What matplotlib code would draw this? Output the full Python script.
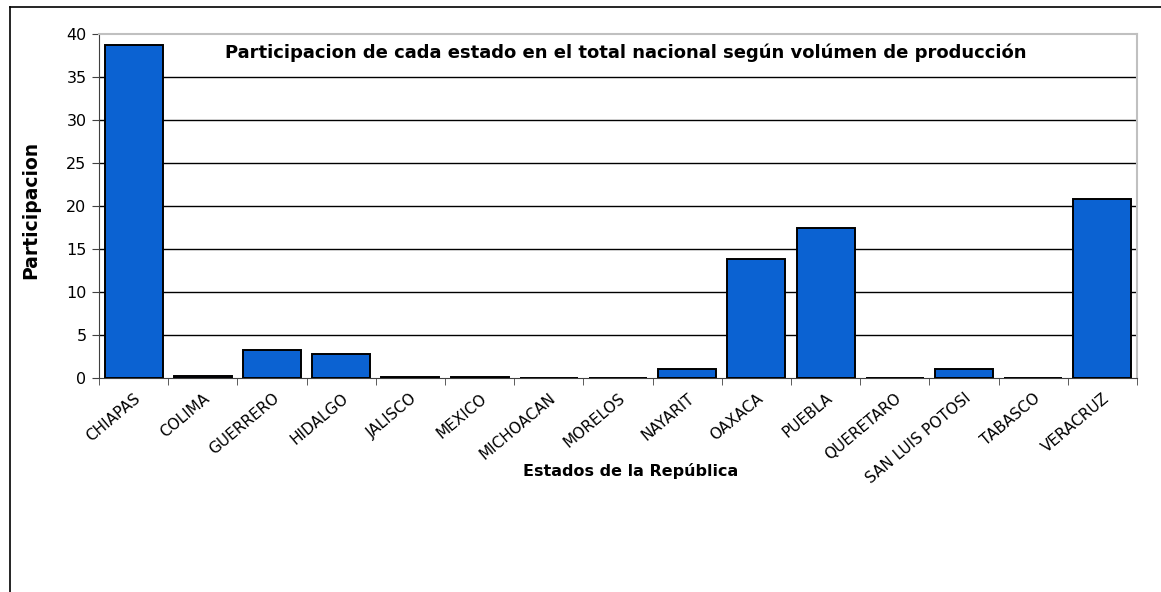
import matplotlib
matplotlib.use("Agg")
import matplotlib.pyplot as plt
import numpy as np
from matplotlib.lines import Line2D

plt.rcParams['font.family'] = ['DejaVu Sans']

estados = ['CHIAPAS', 'COLIMA', 'GUERRERO', 'HIDALGO', 'JALISCO', 'MEXICO',
           'MICHOACAN', 'MORELOS', 'NAYARIT', 'OAXACA', 'PUEBLA', 'QUERETARO',
           'SAN LUIS POTOSI', 'TABASCO', 'VERACRUZ']
participacion = [38.7, 0.2, 3.3, 2.75, 0.15, 0.15, 0.0, 0.0, 1.05, 13.8, 17.4,
                 0.0, 1.05, 0.0, 20.8]
y_ticks = [0, 5, 10, 15, 20, 25, 30, 35, 40]

W, H = 1161, 592
fig = plt.figure(figsize=(W / 100, H / 100), dpi=100)
ax = fig.add_axes([99 / W, 1 - 378 / H, (1137 - 99) / W, (378 - 34) / H])

x = np.arange(len(estados))
ax.bar(x, participacion, width=0.84, color='#0b62d2', edgecolor='black',
       linewidth=1.4, zorder=3)

ax.set_xlim(-0.5, len(estados) - 0.5)
ax.set_ylim(0, 40)
ax.set_yticks(y_ticks)
ax.set_yticklabels([str(v) for v in y_ticks], fontsize=11.5)
for v in y_ticks[1:-1]:
    ax.axhline(v, color='black', linewidth=1, zorder=1)

# category labels at centers, tick marks at boundaries
ax.set_xticks(x)
ax.set_xticklabels(estados, rotation=40, ha='right', rotation_mode='anchor',
                   fontsize=11)
ax.tick_params(axis='x', length=0, pad=9)
ax.set_xticks(np.arange(len(estados) + 1) - 0.5, minor=True)
ax.tick_params(axis='x', which='minor', length=5, color='#404040')
ax.tick_params(axis='y', length=5, color='#404040', pad=4)

for s in ['top', 'right']:
    ax.spines[s].set_color('#c0c0c0')
    ax.spines[s].set_linewidth(1.5)
ax.spines['left'].set_color('#404040')
ax.spines['bottom'].set_color('#404040')

ax.text(0.507, 0.946, 'Participacion de cada estado en el total nacional según volúmen de producción',
        transform=ax.transAxes, ha='center', va='center', fontsize=13,
        fontweight='bold', zorder=5)

fig.text(31 / W, 1 - 210 / H, 'Participacion', rotation=90, ha='center',
         va='center', fontsize=13.5, fontweight='bold')
fig.text(631 / W, 1 - 471 / H, 'Estados de la República', ha='center',
         va='center', fontsize=11.5, fontweight='bold')

# outer chart border
fig.add_artist(Line2D([9.5 / W, 9.5 / W], [0, 1 - 6.5 / H], transform=fig.transFigure,
                      color='black', linewidth=1.2))
fig.add_artist(Line2D([9.5 / W, 1], [1 - 6.5 / H, 1 - 6.5 / H], transform=fig.transFigure,
                      color='black', linewidth=1.2))

fig.savefig('out.png', dpi=100)
